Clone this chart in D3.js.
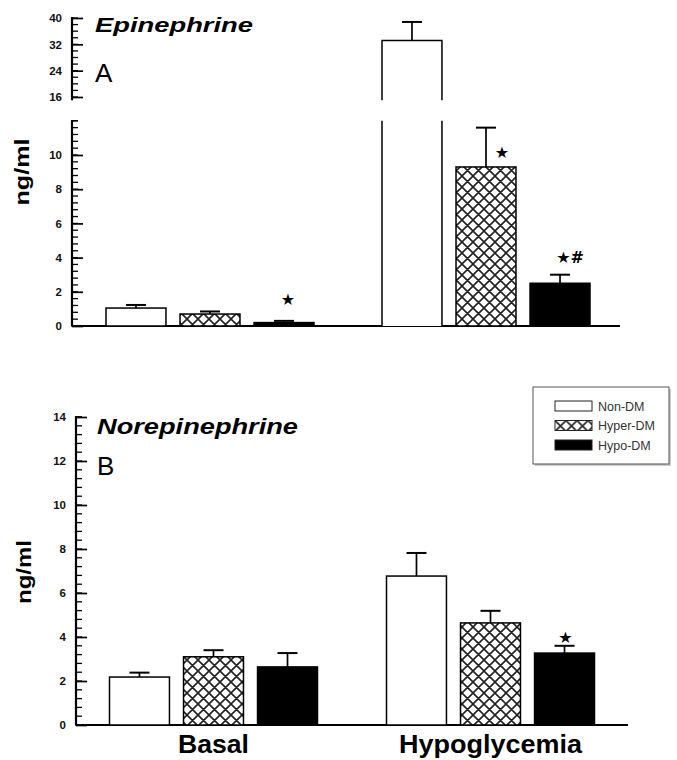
<!DOCTYPE html>
<html>
<head>
<meta charset="utf-8">
<script src="https://cdn.jsdelivr.net/npm/d3@7"></script>
<style>
  html, body { margin: 0; padding: 0; background: #fff; }
  svg { display: block; }
</style>
</head>
<body>
<svg id="chart" width="677" height="760"></svg>
<script>
// ---------------- DATA ----------------
const groups = ["Basal", "Hypoglycemia"];
const seriesNames = ["Non-DM", "Hyper-DM", "Hypo-DM"];

// Panel A: Epinephrine (ng/ml)
const epiBasalMean = [1.05, 0.70, 0.20];
const epiBasalSem  = [0.18, 0.15, 0.10];
const epiHypoMean  = [33.2, 9.3, 2.5];
const epiHypoSem   = [5.6, 2.3, 0.5];

// Panel B: Norepinephrine (ng/ml)
const norBasalMean = [2.18, 3.10, 2.64];
const norBasalSem  = [0.20, 0.30, 0.63];
const norHypoMean  = [6.77, 4.64, 3.27];
const norHypoSem   = [1.05, 0.55, 0.33];

// Tick labels
const epiUpperTicks = [16, 24, 32, 40];
const epiLowerTicks = [0, 2, 4, 6, 8, 10];
const norTicks = [0, 2, 4, 6, 8, 10, 12, 14];

// Significance marks: [group, series, label]
const epiSig = [["Basal", "Hypo-DM", "\u2605"], ["Hypoglycemia", "Hyper-DM", "\u2605"], ["Hypoglycemia", "Hypo-DM", "\u2605#"]];
const norSig = [["Hypoglycemia", "Hypo-DM", "\u2605"]];

// ---------------- BUILD ----------------
function rows(bm, bs, hm, hs) {
  const out = [];
  seriesNames.forEach((s, i) => {
    out.push({ group: "Basal", series: s, mean: bm[i], sem: bs[i] });
    out.push({ group: "Hypoglycemia", series: s, mean: hm[i], sem: hs[i] });
  });
  return out;
}
const epiData = rows(epiBasalMean, epiBasalSem, epiHypoMean, epiHypoSem);
const norData = rows(norBasalMean, norBasalSem, norHypoMean, norHypoSem);

const svg = d3.select("#chart");
svg.append("rect").attr("width", 677).attr("height", 760).attr("fill", "#fff");

const defs = svg.append("defs");
const pat = defs.append("pattern").attr("id", "xhatch")
  .attr("patternUnits", "userSpaceOnUse").attr("width", 11).attr("height", 11);
pat.append("rect").attr("width", 11).attr("height", 11).attr("fill", "#fff");
pat.append("path").attr("d", "M-1,-1 L12,12 M12,-1 L-1,12 M-6.5,4.5 L6.5,17.5 M4.5,-6.5 L17.5,6.5 M17.5,4.5 L4.5,17.5 M6.5,-6.5 L-6.5,6.5")
  .attr("stroke", "#222").attr("stroke-width", 1.6);

const fillFor = { "Non-DM": "#fff", "Hyper-DM": "url(#xhatch)", "Hypo-DM": "#000" };

const x1 = d3.scaleBand().domain(seriesNames).range([-104, 104]).paddingInner(0.19);
const bw = x1.bandwidth();

const tickFont = "'Liberation Sans Narrow','Liberation Sans',Arial,sans-serif";

function drawAxis(g, scale, labelTicks, minorTicks, axisX, domainTop, domainBottom) {
  // minor ticks
  g.append("g").selectAll("line").data(minorTicks).join("line")
    .attr("x1", axisX - 1).attr("x2", axisX + 6)
    .attr("y1", d => scale(d)).attr("y2", d => scale(d))
    .attr("stroke", "#000").attr("stroke-width", 1.3);
  const major = g.append("g").attr("transform", `translate(${axisX},0)`)
    .call(d3.axisLeft(scale).tickValues(labelTicks).tickFormat(d3.format("d")).tickSizeInner(-11).tickSizeOuter(0).tickPadding(10));
  major.select(".domain").remove();
  major.selectAll("line").attr("stroke", "#000").attr("stroke-width", 1.7);
  major.selectAll("text").attr("font-family", tickFont).attr("font-weight", "bold")
    .attr("font-size", 11.5).attr("fill", "#111");
  g.append("line").attr("x1", axisX).attr("x2", axisX)
    .attr("y1", domainTop).attr("y2", domainBottom)
    .attr("stroke", "#000").attr("stroke-width", 2.2);
}

function drawBarsSimple(g, data, x0, y) {
  g.selectAll("rect.bar").data(data).join("rect").attr("class", "bar")
    .attr("x", d => x0(d.group) + x1(d.series))
    .attr("y", d => y(d.mean))
    .attr("width", bw)
    .attr("height", d => y(0) - y(d.mean))
    .attr("fill", d => fillFor[d.series])
    .attr("stroke", "#000").attr("stroke-width", 1.5);
}

function drawErr(g, data, x0, y) {
  const e = g.selectAll("g.err").data(data).join("g").attr("class", "err");
  e.append("line")
    .attr("x1", d => x0(d.group) + x1(d.series) + bw / 2)
    .attr("x2", d => x0(d.group) + x1(d.series) + bw / 2)
    .attr("y1", d => y(d.mean)).attr("y2", d => y(d.mean + d.sem))
    .attr("stroke", "#000").attr("stroke-width", 1.7);
  e.append("line")
    .attr("x1", d => x0(d.group) + x1(d.series) + bw / 2 - 10)
    .attr("x2", d => x0(d.group) + x1(d.series) + bw / 2 + 10)
    .attr("y1", d => y(d.mean + d.sem)).attr("y2", d => y(d.mean + d.sem))
    .attr("stroke", "#000").attr("stroke-width", 2);
}

function drawSig(g, sig, data, x0, y, offsets) {
  sig.forEach((s, i) => {
    const d = data.find(r => r.group === s[0] && r.series === s[1]);
    const o = offsets[i];
    g.append("text")
      .attr("x", x0(d.group) + x1(d.series) + bw / 2 + o[0])
      .attr("y", y(d.mean + d.sem) + o[1])
      .attr("text-anchor", "middle")
      .attr("font-family", "'DejaVu Sans',sans-serif")
      .attr("font-weight", "bold")
      .attr("font-size", 16)
      .attr("fill", "#000")
      .text(s[2]);
  });
}

// ---------------- PANEL A ----------------
const gA = svg.append("g");
const axA = 72;
const x0A = d3.scalePoint().domain(groups).range([210, 486]);
const yU = d3.scaleLinear().domain([16, 40]).range([97, 18]);
const yL = d3.scaleLinear().domain([0, 12]).range([326, 120.8]);
const breakUpper = 15, breakLower = 12;
const yEpi = v => (v > breakLower ? yU(v) : yL(v));

drawAxis(gA, yU, epiUpperTicks, d3.range(16, 40.01, 2), axA, yU(40) - 1, yU(breakUpper));
drawAxis(gA, yL, epiLowerTicks, d3.range(0, 12.01, 0.4).concat([12]), axA, yL(breakLower), yL(0));

// x baseline
gA.append("line").attr("x1", axA).attr("x2", 620).attr("y1", yL(0)).attr("y2", yL(0))
  .attr("stroke", "#000").attr("stroke-width", 2);

const epiNormal = epiData.filter(d => d.mean <= breakLower);
const epiBroken = epiData.filter(d => d.mean > breakLower);
drawBarsSimple(gA, epiNormal, x0A, yL);
epiBroken.forEach(d => {
  const x = x0A(d.group) + x1(d.series);
  gA.append("rect").attr("x", x).attr("y", yU(d.mean)).attr("width", bw)
    .attr("height", yU(breakUpper) - yU(d.mean)).attr("fill", fillFor[d.series]);
  gA.append("path").attr("d", `M${x},${yU(breakUpper)}V${yU(d.mean)}H${x + bw}V${yU(breakUpper)}`)
    .attr("fill", "none").attr("stroke", "#000").attr("stroke-width", 1.5);
  gA.append("rect").attr("x", x).attr("y", yL(breakLower)).attr("width", bw)
    .attr("height", yL(0) - yL(breakLower)).attr("fill", fillFor[d.series]);
  gA.append("path").attr("d", `M${x},${yL(breakLower)}V${yL(0)}M${x + bw},${yL(breakLower)}V${yL(0)}`)
    .attr("fill", "none").attr("stroke", "#000").attr("stroke-width", 1.5);
});
drawErr(gA, epiData, x0A, yEpi);
drawSig(gA, epiSig, epiData, x0A, yEpi, [[4, -16], [16, 30], [10, -12]]);

gA.append("text").attr("x", 95).attr("y", 32)
  .attr("font-family", "'Liberation Sans',Arial,sans-serif").attr("font-weight", "bold")
  .attr("font-style", "italic").attr("font-size", 21)
  .attr("textLength", 158).attr("lengthAdjust", "spacingAndGlyphs").text("Epinephrine");
gA.append("text").attr("x", 95).attr("y", 82)
  .attr("font-family", "'Liberation Sans',Arial,sans-serif").attr("font-size", 26).text("A");
gA.append("text").attr("transform", "translate(29,172) rotate(-90)").attr("text-anchor", "middle")
  .attr("font-family", "'Liberation Sans',Arial,sans-serif").attr("font-weight", "bold")
  .attr("font-size", 20).attr("textLength", 67).attr("lengthAdjust", "spacingAndGlyphs").text("ng/ml");

// ---------------- PANEL B ----------------
const gB = svg.append("g");
const axB = 76;
const x0B = d3.scalePoint().domain(groups).range([213.5, 490.5]);
const yB = d3.scaleLinear().domain([0, 14]).range([725, 417]);

drawAxis(gB, yB, norTicks, d3.range(0, 14.01, 0.4).concat([14]), axB, yB(14) - 1, yB(0));
gB.append("line").attr("x1", axB).attr("x2", 628).attr("y1", yB(0)).attr("y2", yB(0))
  .attr("stroke", "#000").attr("stroke-width", 2);
drawBarsSimple(gB, norData, x0B, yB);
drawErr(gB, norData, x0B, yB);
drawSig(gB, norSig, norData, x0B, yB, [[1, -3]]);

gB.append("text").attr("x", 97).attr("y", 434)
  .attr("font-family", "'Liberation Sans',Arial,sans-serif").attr("font-weight", "bold")
  .attr("font-style", "italic").attr("font-size", 22)
  .attr("textLength", 201).attr("lengthAdjust", "spacingAndGlyphs").text("Norepinephrine");
gB.append("text").attr("x", 97).attr("y", 475)
  .attr("font-family", "'Liberation Sans',Arial,sans-serif").attr("font-size", 26).text("B");
gB.append("text").attr("transform", "translate(31,572) rotate(-90)").attr("text-anchor", "middle")
  .attr("font-family", "'Liberation Sans',Arial,sans-serif").attr("font-weight", "bold")
  .attr("font-size", 20).attr("textLength", 64).attr("lengthAdjust", "spacingAndGlyphs").text("ng/ml");

// category labels
const catLen = { "Basal": 71, "Hypoglycemia": 183 };
gB.selectAll("text.cat").data(groups).join("text").attr("class", "cat")
  .attr("x", d => x0B(d)).attr("y", 753).attr("text-anchor", "middle")
  .attr("font-family", "'Liberation Sans',Arial,sans-serif").attr("font-weight", "bold")
  .attr("font-size", 25).attr("textLength", d => catLen[d]).attr("lengthAdjust", "spacingAndGlyphs")
  .text(d => d);

// ---------------- LEGEND ----------------
const lg = svg.append("g").attr("transform", "translate(533,387)");
lg.append("rect").attr("x", 2).attr("y", 2).attr("width", 136).attr("height", 77).attr("fill", "#ccc");
lg.append("rect").attr("width", 136).attr("height", 77).attr("fill", "#fff")
  .attr("stroke", "#555").attr("stroke-width", 1);
const li = lg.selectAll("g.li").data(seriesNames).join("g").attr("class", "li")
  .attr("transform", (d, i) => `translate(22,${14 + i * 19.5})`);
li.append("rect").attr("width", 37).attr("height", 10)
  .attr("fill", d => fillFor[d]).attr("stroke", "#222").attr("stroke-width", 1);
li.append("text").attr("x", 43).attr("y", 9.5)
  .attr("font-family", "'Liberation Sans',Arial,sans-serif").attr("font-size", 12.5)
  .attr("fill", "#333").text(d => d);
</script>
</body>
</html>
